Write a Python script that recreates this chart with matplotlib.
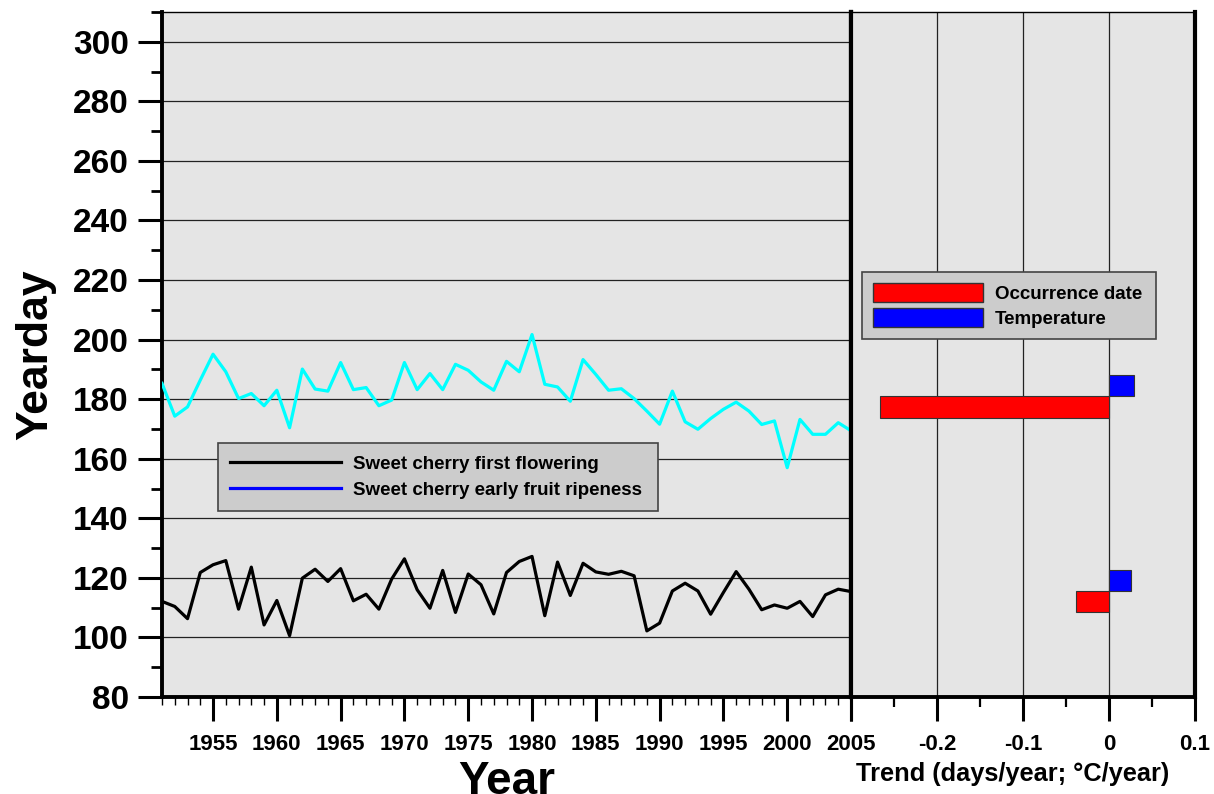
import matplotlib.pyplot as plt
import numpy as np
from matplotlib.lines import Line2D
from matplotlib.patches import Patch
from matplotlib.ticker import MultipleLocator

plt.rcParams['font.family'] = ['Liberation Sans', 'DejaVu Sans']
plt.rcParams['font.weight'] = 'bold'

# phenology series (yearday)
years = np.arange(1951, 2006)
flowering = [112.1, 110.4, 106.3, 121.8, 124.4, 125.8, 109.5, 123.6, 104.2, 112.4,
             100.6, 119.9, 122.9, 118.8, 123.1, 112.3, 114.5, 109.5, 119.6, 126.4,
             116.0, 109.8, 122.5, 108.4, 121.3, 117.7, 107.9, 121.8, 125.5, 127.2,
             107.3, 125.3, 114.1, 124.9, 122.0, 121.2, 122.2, 120.7, 102.2, 104.8,
             115.6, 118.2, 115.6, 107.8, 115.1, 122.1, 116.2, 109.3, 110.9, 109.8,
             112.1, 107.0, 114.3, 116.2, 115.4]
ripeness = [185.3, 174.3, 177.4, 186.4, 195.1, 189.2, 180.2, 181.9, 177.8, 183.0,
            170.4, 190.1, 183.4, 182.7, 192.3, 183.2, 183.9, 177.8, 179.7, 192.3,
            183.2, 188.6, 183.2, 191.7, 189.7, 185.8, 183.0, 192.7, 189.2, 201.7,
            185.0, 184.1, 179.3, 193.3, 188.3, 183.0, 183.5, 180.2, 176.0, 171.6,
            182.7, 172.4, 169.9, 173.5, 176.6, 179.0, 176.0, 171.5, 172.7, 157.0,
            173.2, 168.2, 168.2, 172.1, 169.4]

# trends, one pair of bars per phenophase, drawn at the level of its series
phase_level = [115.6, 181.0]
trend_date = [-0.038, -0.266]    # days/year
trend_temp = [0.025, 0.029]      # degC/year
bar_h = 7.2

bg = '#e5e5e5'

fig = plt.figure(figsize=(12.14, 7.94), dpi=100)
ax = fig.add_axes([162/1214, 1 - 697/794, 689/1214, 685/794])
ax2 = fig.add_axes([851/1214, 1 - 697/794, 344/1214, 685/794])

# ---- left panel: time series
ax.set_facecolor(bg)
ax.plot(years, flowering, color='black', lw=2.3, zorder=3)
ax.plot(years, ripeness, color='#00ffff', lw=2.3, zorder=3)
ax.set_xlim(1951, 2005)
ax.set_ylim(80, 310)
ax.set_yticks(range(80, 301, 20))
ax.yaxis.set_minor_locator(MultipleLocator(10))
ax.set_xticks(range(1955, 2006, 5))
ax.xaxis.set_minor_locator(MultipleLocator(1))
ax.set_axisbelow(True)
ax.grid(axis='y', color='#222222', lw=0.9)

ax.tick_params(axis='y', which='major', direction='out', length=17, width=2.2, labelsize=24, pad=7)
ax.tick_params(axis='y', which='minor', direction='out', length=8, width=2)
ax.tick_params(axis='x', which='major', direction='out', length=17, width=2.2, labelsize=16, pad=10)
ax.tick_params(axis='x', which='minor', direction='out', length=6, width=1)

ax.spines['left'].set_linewidth(2.8)
ax.spines['bottom'].set_linewidth(2.8)
ax.spines['right'].set_linewidth(3)
ax.spines['top'].set_linewidth(1)

ax.set_ylabel('Yearday', fontsize=32, fontweight='bold', labelpad=12)
ax.set_xlabel('Year', fontsize=33, fontweight='bold', labelpad=3)

leg_handles = [Line2D([], [], color='black', lw=2.3), Line2D([], [], color='blue', lw=2.3)]
leg = ax.legend(leg_handles, ['Sweet cherry first flowering', 'Sweet cherry early fruit ripeness'],
                loc='upper left', bbox_to_anchor=(0.0813, 0.2715, 0.6386, 0.0993), mode='expand',
                borderaxespad=0, prop={'size': 13.5, 'weight': 'bold'}, handlelength=5.9,
                handletextpad=0.64, labelspacing=0.5, borderpad=0.66, fancybox=False,
                facecolor='#cccccc', edgecolor='#444444', framealpha=1)
leg.get_frame().set_linewidth(1.2)

# ---- right panel: trends
ax2.set_facecolor(bg)
lvl = np.array(phase_level)
ax2.barh(lvl - bar_h / 2, trend_date, height=bar_h, color='#ff0000', edgecolor='#333333', lw=0.8, zorder=3)
ax2.barh(lvl + bar_h / 2, trend_temp, height=bar_h, color='#0000ff', edgecolor='#333333', lw=0.8, zorder=3)
ax2.set_xlim(-0.3, 0.1)
ax2.set_ylim(80, 310)
ax2.set_yticks([])
ax2.set_xticks([-0.3, -0.2, -0.1, 0, 0.1], ['', '-0.2', '-0.1', '0', '0.1'])
ax2.xaxis.set_minor_locator(MultipleLocator(0.05))
ax2.set_axisbelow(True)
ax2.grid(axis='x', color='#222222', lw=0.9)
ax2.tick_params(axis='x', which='major', direction='out', length=17, width=2.2, labelsize=16, pad=10)
ax2.tick_params(axis='x', which='minor', direction='out', length=7, width=1.6)
ax2.spines['left'].set_linewidth(3)
ax2.spines['right'].set_linewidth(3)
ax2.spines['bottom'].set_linewidth(2.8)
ax2.spines['top'].set_linewidth(1)
ax2.set_xlabel('Trend (days/year; °C/year)', fontsize=18.3, fontweight='bold', labelpad=5, x=0.47)

leg2_handles = [Patch(facecolor='#ff0000', edgecolor='#333333'), Patch(facecolor='#0000ff', edgecolor='#333333')]
leg2 = ax2.legend(leg2_handles, ['Occurrence date', 'Temperature'],
                  loc='upper left', bbox_to_anchor=(0.032, 0.5212, 0.8547, 0.0993), mode='expand',
                  borderaxespad=0, prop={'size': 13.5, 'weight': 'bold'}, handlelength=5.87,
                  handleheight=1.15, handletextpad=0.62, labelspacing=0.3, borderpad=0.6,
                  fancybox=False, facecolor='#cccccc', edgecolor='#444444', framealpha=1)
leg2.get_frame().set_linewidth(1.2)

fig.savefig('out.png', dpi=100)
